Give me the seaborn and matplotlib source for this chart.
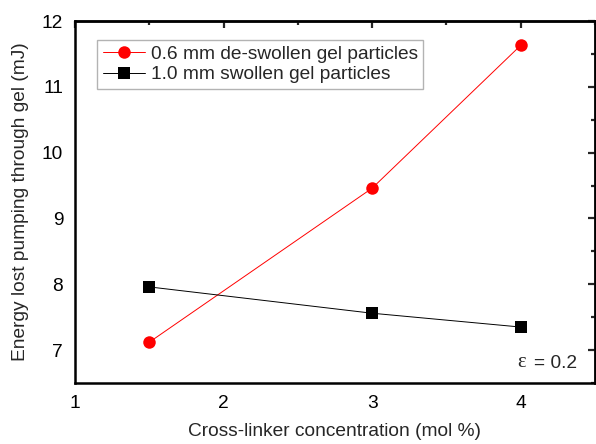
import matplotlib
matplotlib.use("Agg")
import matplotlib.pyplot as plt
import seaborn as sns
import pandas as pd
from matplotlib.ticker import MultipleLocator

crosslinker = [1.5, 3.0, 4.0]
deswollen_06 = [7.12, 9.46, 11.63]
swollen_10 = [7.96, 7.56, 7.35]
series_names = ["0.6 mm de-swollen gel particles", "1.0 mm swollen gel particles"]

df = pd.DataFrame({
    "x": crosslinker * 2,
    "y": deswollen_06 + swollen_10,
    "series": [series_names[0]] * 3 + [series_names[1]] * 3,
})

sns.set_theme(style="white")
plt.rcParams["font.family"] = ["Liberation Sans", "DejaVu Sans"]

FS = 13.8
fig = plt.figure(figsize=(5.96, 4.44), dpi=100)
ax = fig.add_axes([75/596, (444-383)/444, (595-75)/596, (383-21)/444])

sns.lineplot(data=df, x="x", y="y", hue="series", style="series",
             palette={series_names[0]: "#ff0000", series_names[1]: "#000000"},
             markers={series_names[0]: "o", series_names[1]: "s"},
             dashes=False, linewidth=0.7, markersize=9, markeredgewidth=0,
             ax=ax, legend=True)

ax.set_xlim(1, 4.5)
ax.set_ylim(6.5, 12)
ax.xaxis.set_major_locator(MultipleLocator(1))
ax.xaxis.set_minor_locator(MultipleLocator(0.5))
ax.yaxis.set_major_locator(MultipleLocator(1))
ax.yaxis.set_minor_locator(MultipleLocator(0.5))

for s in ax.spines.values():
    s.set_visible(True)
    s.set_color("black")
    s.set_linewidth(1.8)

ax.tick_params(axis="both", which="both", direction="out", colors="black",
               labelsize=FS, top=False, right=False)
ax.tick_params(which="major", length=5, width=1.6)
ax.tick_params(which="minor", length=3, width=1.6)
ax2 = ax.secondary_xaxis("top")
ax2.xaxis.set_major_locator(MultipleLocator(1))
ax2.xaxis.set_minor_locator(MultipleLocator(0.5))
ax2.tick_params(which="both", direction="in", labeltop=False, width=1.6)
ax2.tick_params(which="major", length=5)
ax2.tick_params(which="minor", length=3)
ax2.spines["top"].set_linewidth(1.8)
ax3 = ax.secondary_yaxis("right")
ax3.yaxis.set_major_locator(MultipleLocator(1))
ax3.yaxis.set_minor_locator(MultipleLocator(0.5))
ax3.tick_params(which="both", direction="in", labelright=False, width=1.6)
ax3.tick_params(which="major", length=5)
ax3.tick_params(which="minor", length=3)
ax3.spines["right"].set_linewidth(1.8)

ax.set_xlabel("Cross-linker concentration (mol %)", fontsize=FS, labelpad=8)
ax.set_ylabel("Energy lost pumping through gel (mJ)", fontsize=FS, labelpad=9)

leg = ax.legend(loc="upper left", bbox_to_anchor=(0.042, 0.948), fontsize=FS,
                frameon=True, fancybox=False, edgecolor="#a0a0a0",
                borderpad=0.3, handlelength=2.2, handletextpad=0.3, labelspacing=0.15,
                borderaxespad=0)
leg.get_frame().set_linewidth(1.0)

ax.text(0.965, 0.03, "= 0.2", transform=ax.transAxes,
        ha="right", va="bottom", fontsize=FS)
ax.text(0.867, 0.03, "ε", transform=ax.transAxes, family="Liberation Serif",
        ha="right", va="bottom", fontsize=FS + 1)

fig.savefig("out.png", dpi=100)
